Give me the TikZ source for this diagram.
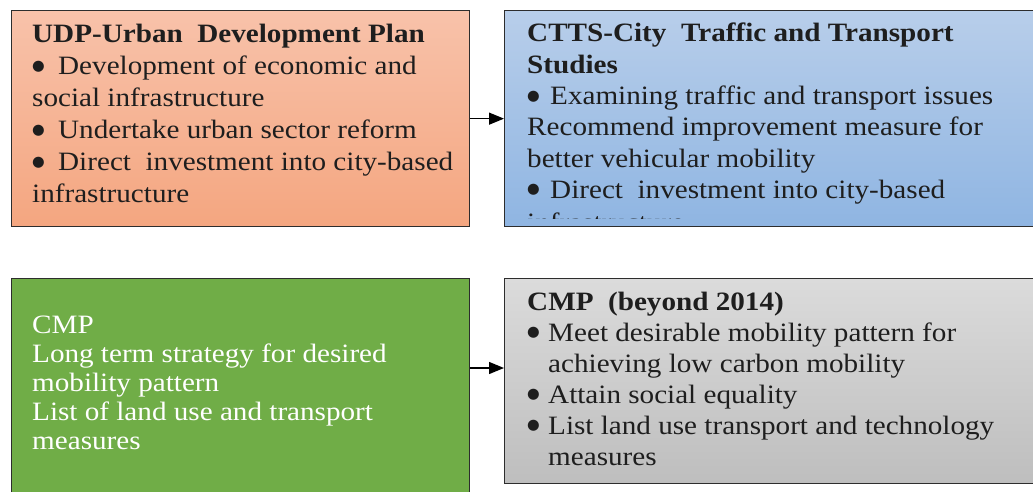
\documentclass[tikz,border=0pt]{standalone}
\usepackage{fontspec}
\setmainfont{Liberation Serif}[FakeStretch=1.1]
\newfontfamily\dotfont{DejaVu Sans}
\usetikzlibrary{arrows.meta}

\definecolor{boxline}{RGB}{45,45,45}
\definecolor{ink}{RGB}{30,30,30}
\definecolor{udptop}{RGB}{248,194,170}
\definecolor{udpbot}{RGB}{244,166,128}
\definecolor{cttstop}{RGB}{184,206,234}
\definecolor{cttsbot}{RGB}{143,181,226}
\definecolor{cmpgreen}{RGB}{112,173,71}
\definecolor{graytop}{RGB}{219,219,219}
\definecolor{graybot}{RGB}{190,190,190}

% list bullet followed by a fixed gap
\newcommand{\bulitem}[1]{\makebox[#1][l]{\raisebox{4.5pt}{\fontsize{14.5}{14.5}\dotfont ●}}}

\begin{document}
\begin{tikzpicture}[x=1pt,y=-1pt,
  box/.style={draw=boxline, line width=1.3pt, rectangle, anchor=north west,
    inner sep=0pt},
  txt/.style={anchor=base west, inner sep=0pt, text=ink},
  link/.style={draw=black, line width=1.3pt,
    -{Triangle[length=15pt,width=12pt]}}]

\clip (0,0) rectangle (1033,492);
\fill[white] (0,0) rectangle (1033,492);

% the four planning boxes
\node[box, minimum width=458pt, minimum height=216pt,
  top color=udptop, bottom color=udpbot] (udp) at (11,10) {};
\node[box, minimum width=545pt, minimum height=216pt,
  top color=cttstop, bottom color=cttsbot] (ctts) at (504,10) {};
\node[box, minimum width=458pt, minimum height=232pt,
  fill=cmpgreen] (cmp) at (11,278) {};
\node[box, minimum width=545pt, minimum height=205pt,
  top color=graytop, bottom color=graybot] (cmpnew) at (504,278) {};

% UDP text
\node[txt, font=\fontsize{26.5}{32}\selectfont] (udptext) at (32,43) {%
  \begin{tabular}[t]{@{}l@{}}
  \textbf{UDP-Urban\ \ Development Plan}\\
  \bulitem{26pt}Development of economic and\\
  social infrastructure\\
  \bulitem{26pt}Undertake urban sector reform\\
  \bulitem{26pt}Direct\ \ investment into city-based\\
  infrastructure
  \end{tabular}};

% CTTS text, cut off above the lower edge of its box
\begin{scope}
  \clip ([xshift=0.7pt,yshift=-0.7pt]ctts.north west)
    rectangle ([yshift=9pt]ctts.south east);
  \node[txt, font=\fontsize{26.5}{31.3}\selectfont] (cttstext) at (527,42) {%
    \begin{tabular}[t]{@{}l@{}}
    \textbf{CTTS-City\ \ Traffic and Transport}\\
    \textbf{Studies}\\
    \bulitem{23pt}Examining traffic and transport issues\\
    Recommend improvement measure for\\
    better vehicular mobility\\
    \bulitem{23pt}Direct\ \ investment into city-based\\[2pt]
    infrastructure
    \end{tabular}};
\end{scope}

% CMP text
\node[txt, text=white, font=\fontsize{26.5}{29.2}\selectfont] (cmptext) at (32,333) {%
  \begin{tabular}[t]{@{}l@{}}
  CMP\\
  Long term strategy for desired\\
  mobility pattern\\
  List of land use and transport\\
  measures
  \end{tabular}};

% CMP (beyond 2014) text
\node[txt, font=\fontsize{26.5}{31}\selectfont] (cmpnewtext) at (527,310) {%
  \begin{tabular}[t]{@{}l@{}}
  \textbf{CMP\ \ (beyond 2014)}\\
  \bulitem{21pt}Meet desirable mobility pattern for\\
  \hspace*{21pt}achieving low carbon mobility\\
  \bulitem{21pt}Attain social equality\\
  \bulitem{21pt}List land use transport and technology\\
  \hspace*{21pt}measures
  \end{tabular}};

% connectors
\coordinate (lower) at (0,368);
\draw[link] (udp.east) -- (ctts.west);
\draw[link] (cmp.east |- lower) -- (cmpnew.west |- lower);
\end{tikzpicture}
\end{document}
